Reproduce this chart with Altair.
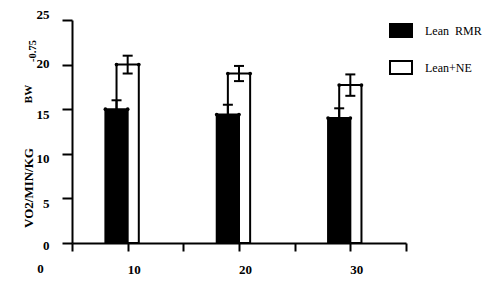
import altair as alt
import pandas as pd

categories = [10, 20, 30]
series_names = ["Lean\u00a0\u00a0RMR", "Lean+NE"]
rmr_values = [15.0, 14.4, 14.0]
rmr_errors = [1.0, 1.1, 1.1]
ne_values = [20.0, 19.0, 17.7]
ne_errors = [1.0, 0.85, 1.2]
y_ticks = [0, 2.5, 5, 7.5, 10, 12.5, 15, 17.5, 20, 22.5, 25]
x_ticks = [5, 10, 15, 20, 25, 30, 35]

rows = []
for c, v, e in zip(categories, ne_values, ne_errors):
    rows.append({"cat": c, "series": series_names[1], "value": v, "err": e})
for c, v, e in zip(categories, rmr_values, rmr_errors):
    rows.append({"cat": c, "series": series_names[0], "value": v, "err": e})
df = pd.DataFrame(rows)

FONT = "Liberation Serif"

xscale = alt.Scale(domain=[5, 35], nice=False, zero=False)
yscale = alt.Scale(domain=[0, 25], nice=False)

xaxis = alt.Axis(
    values=x_ticks,
    labelExpr="datum.value % 10 == 0 ? datum.label : ''",
    tickSize=8, tickWidth=2, domainWidth=2,
    tickColor="black", domainColor="black", grid=False,
    labelFont=FONT, labelFontWeight="bold", labelFontSize=13, labelColor="black",
    labelOffset=6, labelPadding=12, labelFlush=False,
    title="0", titleX=-32, titleY=25, titleBaseline="middle",
    titleFont=FONT, titleFontWeight="bold", titleFontSize=13, titleColor="black",
)

yaxis = alt.Axis(
    values=y_ticks,
    labelExpr="datum.value % 5 == 0 ? datum.label : ''",
    tickSize={"condition": {"test": "datum.value % 5 == 0", "value": 10}, "value": 6},
    labelOffset={"condition": [
        {"test": "datum.value == 25", "value": -6},
        {"test": "datum.value == 20", "value": -1},
        {"test": "datum.value == 0", "value": 2},
    ], "value": 5},
    tickWidth=2, domainWidth=2, tickColor="black", domainColor="black", grid=False,
    labelFont=FONT, labelFontWeight="bold", labelFontSize=13, labelColor="black",
    labelPadding=13, labelFlush=False, title=None,
)

base = alt.Chart(df).transform_calculate(
    x0="datum.cat + (datum.series == 'Lean+NE' ? -1 : -2)"
).transform_calculate(
    x1="datum.x0 + 2", xc="datum.x0 + 1", zero="0",
    lo="datum.value - datum.err", hi="datum.value + datum.err",
)

bars = base.mark_bar(stroke="black", strokeWidth=2, opacity=1).encode(
    x=alt.X("x0:Q", scale=xscale, axis=xaxis),
    x2="x1:Q",
    y=alt.Y("value:Q", scale=yscale, axis=yaxis, stack=None),
    y2="zero:Q",
    fill=alt.Fill(
        "series:N",
        scale=alt.Scale(domain=series_names, range=["black", "white"]),
        legend=alt.Legend(
            orient="none", legendX=317, legendY=-1.5, title=None,
            symbolType="M-1,-0.6H1V0.6H-1Z", symbolSize=484,
            symbolStrokeColor="black", symbolStrokeWidth=2, symbolOpacity=1,
            labelFont=FONT, labelFontSize=12, labelColor="black",
            labelOffset=12, rowPadding=14, padding=0,
        ),
    ),
)

dots = base.transform_fold(["x0", "x1"], as_=["k", "xx"]).mark_circle(
    size=14, color="black", opacity=1
).encode(x="xx:Q", y="value:Q")

rules = base.mark_rule(strokeWidth=2, color="black").encode(
    x="xc:Q", y="lo:Q", y2="hi:Q"
)
cap_hi = base.mark_tick(orient="horizontal", size=10, thickness=2, color="black", opacity=1).encode(
    x="xc:Q", y="hi:Q"
)
cap_lo = base.mark_tick(orient="horizontal", size=10, thickness=2, color="black", opacity=1).encode(
    x="xc:Q", y="lo:Q"
)

t1 = alt.Chart(pd.DataFrame({"t": ["VO2/MIN/KG"]})).mark_text(
    angle=270, font=FONT, fontWeight="bold", fontSize=13, color="black", baseline="middle", align="center"
).encode(x=alt.value(-43), y=alt.value(168), text="t:N")
t2 = alt.Chart(pd.DataFrame({"t": ["BW"]})).mark_text(
    angle=270, font=FONT, fontWeight="bold", fontSize=11, color="black", baseline="middle", align="center"
).encode(x=alt.value(-43), y=alt.value(74), text="t:N")
t3 = alt.Chart(pd.DataFrame({"t": ["-0.75"]})).mark_text(
    angle=270, font=FONT, fontWeight="bold", fontSize=10.5, color="black", baseline="middle", align="center"
).encode(x=alt.value(-39), y=alt.value(31), text="t:N")

chart = alt.layer(bars, rules, cap_hi, cap_lo, dots, t1, t2, t3).properties(
    width=334, height=223,
    autosize=alt.AutoSizeParams(type="none"),
    padding={"left": 72, "top": 20, "right": 82, "bottom": 39},
    background="white",
).configure_view(stroke=None)

chart.save("out.html", embed_options={"renderer": "svg", "actions": False})
